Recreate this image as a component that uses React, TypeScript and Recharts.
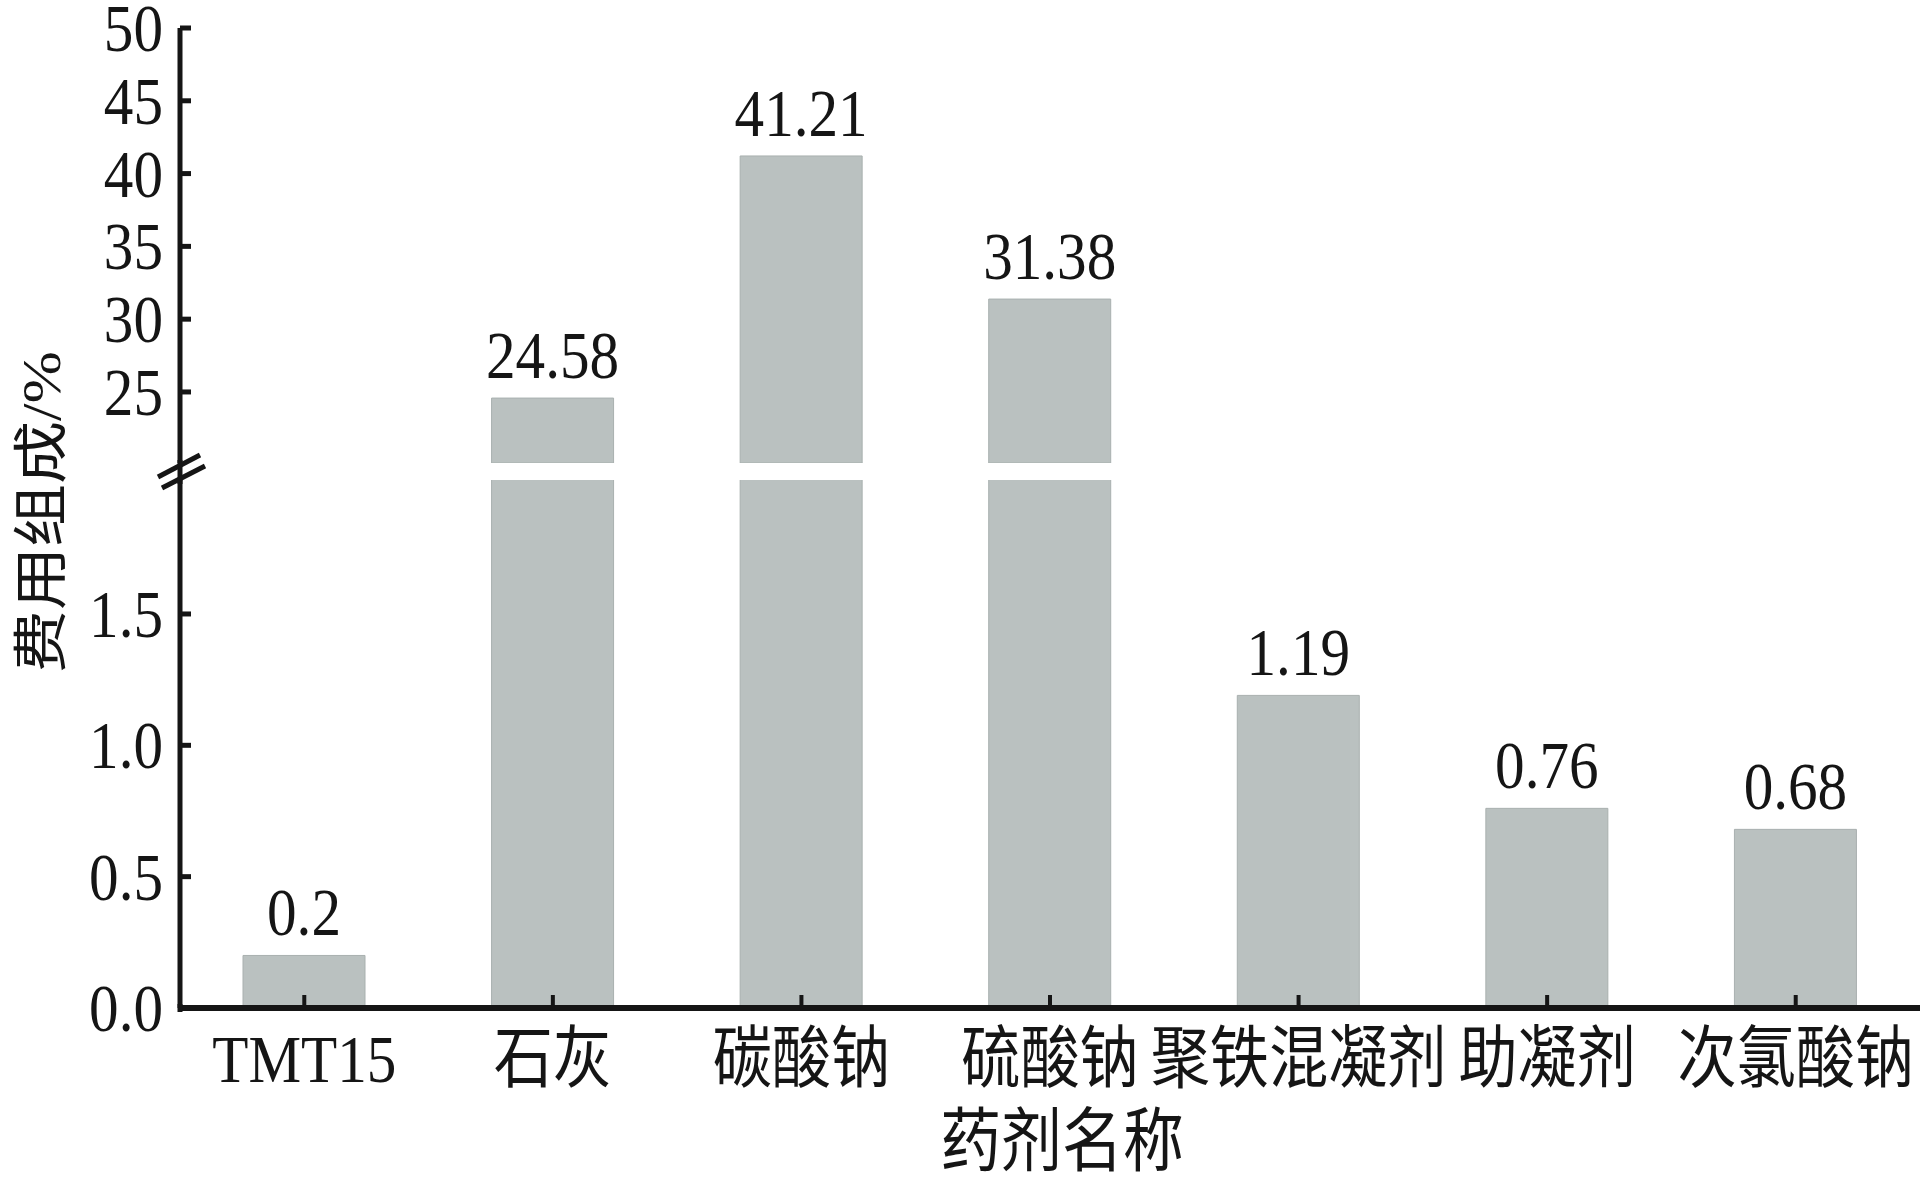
import React from 'react';
import { BarChart, Bar, XAxis, YAxis, LabelList } from 'recharts';

// Reagent names and their share of the total treatment cost (%)
const categories = ['TMT15', '石灰', '碳酸钠', '硫酸钠', '聚铁混凝剂', '助凝剂', '次氯酸钠'];
const costShare = [0.2, 24.58, 41.21, 31.38, 1.19, 0.76, 0.68];

// Tick values for the two parts of the broken value axis
const upperTicks = [25, 30, 35, 40, 45, 50];
const lowerTicks = [0, 0.5, 1.0, 1.5];

// Value ranges shown above and below the axis break
const UPPER_DOMAIN: [number, number] = [20.12, 50];
const LOWER_DOMAIN: [number, number] = [0, 2.01];

const rows = categories.map((name, i) => ({
  name,
  value: costShare[i],
  upper: costShare[i] >= UPPER_DOMAIN[0] ? costShare[i] : null,
}));

const INK = '#151515';
const BAR_FILL = '#bac1c0';
const BAR_EDGE = '#a9b0af';
const FONT = "'Liberation Serif', 'Noto Sans CJK SC', serif";
const SX = 0.87;
const TEXT_SIZE = 68;

const W = 1925;
const H = 1181;
const AXIS_W = 180;
const RIGHT = 5;

function SquashedText(props: any) {
  const { x, y, anchor = 'middle', size = TEXT_SIZE, children } = props;
  return (
    <text
      transform={`translate(${x},${y}) scale(${SX},1)`}
      textAnchor={anchor}
      fontFamily={FONT}
      fontSize={size}
      fill={INK}
    >
      {children}
    </text>
  );
}

const makeYTick = (fmt: (v: number) => string) => (props: any) => {
  const { x, y, payload } = props;
  return (
    <g>
      <line x1={x} x2={x + 11} y1={y} y2={y} stroke={INK} strokeWidth={5} />
      <SquashedText x={x - 17} y={y + 23} anchor="end">
        {fmt(payload.value)}
      </SquashedText>
    </g>
  );
};

const XTick = (props: any) => {
  const { x, y, payload } = props;
  return (
    <g>
      <line x1={x} x2={x} y1={y - 13} y2={y} stroke={INK} strokeWidth={4} />
      <SquashedText x={x} y={y + 74} anchor="middle">
        {payload.value}
      </SquashedText>
    </g>
  );
};

const makeValueLabel = (show: (v: number) => boolean) => (props: any) => {
  const vb = props.viewBox || props;
  const value = props.value;
  if (value === null || value === undefined || !show(Number(value))) return null;
  return (
    <SquashedText x={vb.x + vb.width / 2} y={vb.y - 20} anchor="middle">
      {String(value)}
    </SquashedText>
  );
};

const XTitle = (props: any) => {
  const vb = props.viewBox;
  return (
    <SquashedText x={vb.x + vb.width / 2 + 12} y={vb.y + 158} anchor="middle" size={70}>
      药剂名称
    </SquashedText>
  );
};

export default function App() {
  return (
    <div style={{ position: 'absolute', left: 0, top: 0, width: W, height: H, background: '#fff' }}>
      {/* upper part: 20–50 */}
      <div style={{ position: 'absolute', left: 0, top: 0 }}>
        <BarChart
          width={W}
          height={470}
          data={rows}
          margin={{ top: 28, right: RIGHT, bottom: 7, left: 0 }}
          barCategoryGap={0}
        >
          <Bar
            dataKey="upper"
            fill={BAR_FILL}
            stroke={BAR_EDGE}
            strokeWidth={1}
            barSize={122}
            isAnimationActive={false}
          >
            <LabelList dataKey="upper" content={makeValueLabel((v) => v >= UPPER_DOMAIN[0])} />
          </Bar>
          <XAxis dataKey="name" hide />
          <YAxis
            type="number"
            domain={UPPER_DOMAIN}
            ticks={upperTicks}
            allowDataOverflow
            width={AXIS_W}
            tickSize={0}
            tickMargin={0}
            tickLine={false}
            axisLine={{ stroke: INK, strokeWidth: 5 }}
            tick={makeYTick((v) => String(v))}
            interval={0}
          />
        </BarChart>
      </div>

      {/* lower part: 0–2 */}
      <div style={{ position: 'absolute', left: 0, top: 0 }}>
        <BarChart
          width={W}
          height={H}
          data={rows}
          margin={{ top: 480, right: RIGHT, bottom: 0, left: 0 }}
        >
          <Bar
            dataKey="value"
            fill={BAR_FILL}
            stroke={BAR_EDGE}
            strokeWidth={1}
            barSize={122}
            isAnimationActive={false}
          >
            <LabelList dataKey="value" content={makeValueLabel((v) => v <= LOWER_DOMAIN[1])} />
          </Bar>
          <XAxis
            dataKey="name"
            height={173}
            tickSize={0}
            tickMargin={0}
            tickLine={false}
            axisLine={{ stroke: INK, strokeWidth: 6 }}
            tick={XTick}
            interval={0}
            label={<XTitle />}
          />
          <YAxis
            type="number"
            domain={LOWER_DOMAIN}
            ticks={lowerTicks}
            allowDataOverflow
            width={AXIS_W}
            tickSize={0}
            tickMargin={0}
            tickLine={false}
            axisLine={{ stroke: INK, strokeWidth: 5 }}
            tick={makeYTick((v) => v.toFixed(1))}
            interval={0}
          />
        </BarChart>
      </div>

      {/* axis break marks and the vertical title */}
      <svg
        width={W}
        height={H}
        style={{ position: 'absolute', left: 0, top: 0, pointerEvents: 'none' }}
      >
        <line x1={AXIS_W} x2={AXIS_W} y1={460} y2={484} stroke={INK} strokeWidth={5} />
        <line x1={AXIS_W} x2={AXIS_W} y1={1004} y2={1012} stroke={INK} strokeWidth={5} />
        <line x1={158} y1={477} x2={200} y2={455} stroke={INK} strokeWidth={5} />
        <line x1={162} y1={488} x2={205} y2={466} stroke={INK} strokeWidth={5} />
        <text
          transform={`translate(60,512) scale(${SX},1) rotate(-90)`}
          textAnchor="middle"
          fontFamily={FONT}
          fontSize={63}
          fill={INK}
        >
          费用组成/%
        </text>
      </svg>
    </div>
  );
}
